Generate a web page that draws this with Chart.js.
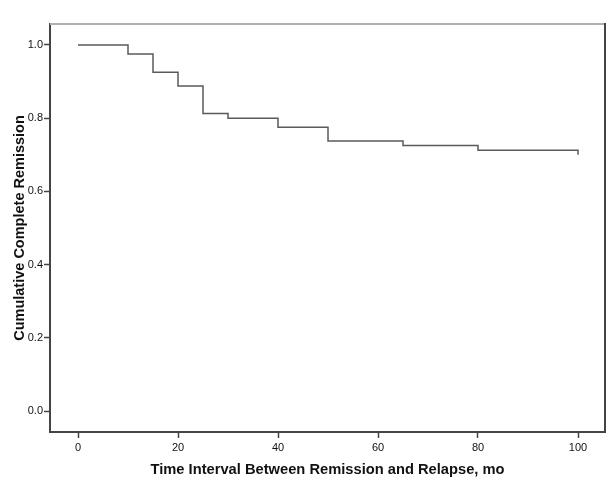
<!DOCTYPE html>
<html>
<head>
<meta charset="utf-8">
<script src="https://cdn.jsdelivr.net/npm/chart.js@4.4.1/dist/chart.umd.min.js"></script>
<style>
  html, body { margin: 0; padding: 0; background: #fff; }
  #wrap { width: 615px; height: 493px; }
</style>
</head>
<body>
<div id="wrap"><canvas id="km"></canvas></div>
<script>
// Kaplan-Meier step data: time (months) and cumulative remission
const times = [0, 10, 15, 20, 25, 30, 40, 50, 65, 80, 100]
const remission = [1.0, 0.975, 0.925, 0.8875, 0.8125, 0.8, 0.775, 0.7375, 0.725, 0.7125, 0.70]
const xTicks = [0, 20, 40, 60, 80, 100]
const yTicks = [0.0, 0.2, 0.4, 0.6, 0.8, 1.0]

const points = times.map((t, i) => ({ x: t, y: remission[i] }))

// draws the top and right sides of the plot frame
const framePlugin = {
  id: 'frame',
  afterDraw(chart) {
    const { ctx, chartArea: a } = chart
    ctx.save()
    ctx.lineWidth = 2
    ctx.strokeStyle = '#b0b0b0'
    ctx.beginPath()
    ctx.moveTo(a.left, a.top)
    ctx.lineTo(a.right, a.top)
    ctx.stroke()
    ctx.strokeStyle = '#444'
    ctx.beginPath()
    ctx.moveTo(a.right, a.top - 1)
    ctx.lineTo(a.right, a.bottom)
    ctx.stroke()
    ctx.restore()
  }
}

const ctx = document.getElementById('km').getContext('2d')

new Chart(ctx, {
  type: 'line',
  data: {
    datasets: [{
      data: points,
      stepped: true,
      borderColor: '#5a5a5a',
      borderWidth: 1.5,
      pointRadius: 0,
      fill: false
    }]
  },
  plugins: [framePlugin],
  options: {
    responsive: true,
    maintainAspectRatio: false,
    animation: false,
    layout: { padding: { left: 0, top: 24, right: 10, bottom: 0 } },
    plugins: {
      legend: { display: false },
      tooltip: { enabled: false }
    },
    scales: {
      x: {
        type: 'linear',
        min: -5.6,
        max: 105.4,
        afterFit: scale => { scale.height = 61 },
        afterBuildTicks: scale => { scale.ticks = xTicks.map(v => ({ value: v })) },
        grid: { drawOnChartArea: false, drawTicks: true, tickLength: 6, tickWidth: 1.5, tickColor: '#444' },
        border: { display: true, color: '#444', width: 2 },
        ticks: {
          padding: 3,
          color: '#111',
          font: { family: 'Liberation Sans', size: 11 },
          maxRotation: 0
        },
        title: {
          display: true,
          text: 'Time Interval Between Remission and Relapse, mo',
          color: '#111',
          font: { family: 'Liberation Sans', size: 14.7, weight: 'bold' },
          padding: { top: 0, bottom: 14 }
        }
      },
      y: {
        min: -0.057,
        max: 1.057,
        afterFit: scale => { scale.width = 50 },
        afterBuildTicks: scale => { scale.ticks = yTicks.map(v => ({ value: v })) },
        grid: { drawOnChartArea: false, drawTicks: true, tickLength: 6, tickWidth: 1.5, tickColor: '#444' },
        border: { display: true, color: '#444', width: 2 },
        ticks: {
          padding: 1,
          color: '#111',
          font: { family: 'Liberation Sans', size: 11 },
          callback: v => Number(v).toFixed(1)
        },
        title: {
          display: true,
          text: 'Cumulative Complete Remission',
          color: '#111',
          font: { family: 'Liberation Sans', size: 14.5, weight: 'bold' },
          padding: { top: 11, bottom: 0 }
        }
      }
    }
  }
})
</script>
</body>
</html>
